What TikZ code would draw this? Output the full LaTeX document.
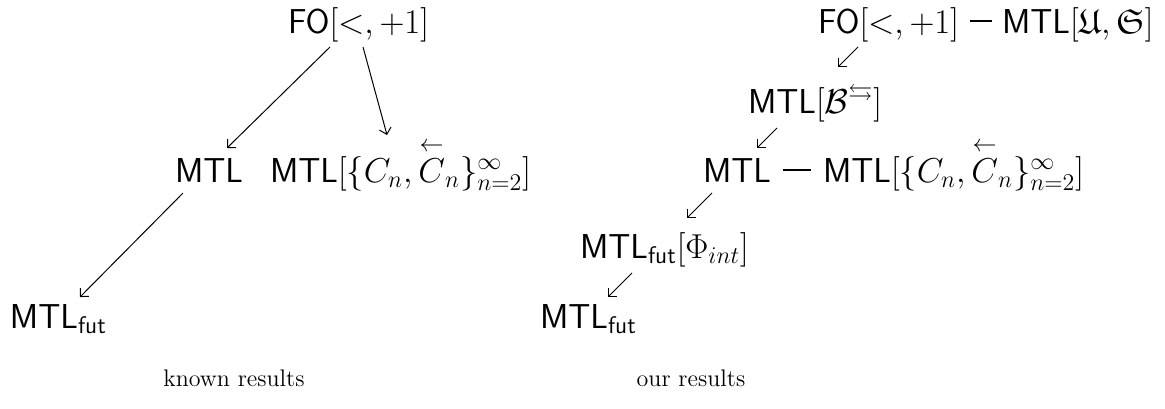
\documentclass[tikz,border=0pt]{standalone}
\usepackage{amsmath,amssymb}
\usetikzlibrary{arrows.meta}
\begin{document}
\begin{tikzpicture}[x=0.5pt,y=-0.5pt,
  lbl/.style={inner sep=0pt,outer sep=0pt,anchor=base west,font=\fontsize{17.28}{20}\selectfont},
  captxt/.style={inner sep=0pt,anchor=base,font=\fontsize{12}{14}\selectfont},
  arr/.style={line width=0.5pt,-{Straight Barb[length=3pt,width=6pt]}},
  dashline/.style={line width=0.55pt}]
\useasboundingbox (0,0) rectangle (1165,408);
% left tree
\node[lbl] (foL)   at (288,33)  {$\mathsf{FO}[<,+1]$};
\node[lbl] (mtlL)  at (175,182) {$\mathsf{MTL}$};
\node[lbl] (mtlCL) at (270,182) {$\mathsf{MTL}[\{C_n,\overset{\leftarrow}{C}_n\}_{n=2}^{\infty}]$};
\node[lbl] (futL)  at (10,328)  {$\mathsf{MTL}_{\mathsf{fut}}$};
\draw[arr] ([shift={(42,14)}]foL.base west) -- ([shift={(52,-34)}]mtlL.base west);
\draw[arr] ([shift={(75,14)}]foL.base west) -- ([shift={(117,-47)}]mtlCL.base west);
\draw[arr] ([shift={(8,11)}]mtlL.base west) -- ([shift={(70,-31)}]futL.base west);
% right tree
\node[lbl] (foR)   at (818,33)  {$\mathsf{FO}[<,+1]$};
\node[lbl] (usR)   at (1002,33) {$\mathsf{MTL}[\mathfrak{U},\mathfrak{S}]$};
\node[lbl] (bR)    at (748,113) {$\mathsf{MTL}[\mathcal{B}^{\leftrightarrows}]$};
\node[lbl] (mtlR)  at (703,182) {$\mathsf{MTL}$};
\node[lbl] (mtlCR) at (823,182) {$\mathsf{MTL}[\{C_n,\overset{\leftarrow}{C}_n\}_{n=2}^{\infty}]$};
\node[lbl] (phiR)  at (580,258) {$\mathsf{MTL}_{\mathsf{fut}}[\Phi_{int}]$};
\node[lbl] (futR)  at (540,328) {$\mathsf{MTL}_{\mathsf{fut}}$};
\draw[dashline] ([xshift=5.5pt,yshift=6pt]foR.base east) -- ([xshift=-5pt,yshift=6pt]usR.base west);
\draw[dashline] ([xshift=6pt,yshift=6pt]mtlR.base east) -- ([xshift=-6pt,yshift=6pt]mtlCR.base west);
\draw[arr] ([shift={(40,14)}]foR.base west) -- ([shift={(90,-46)}]bR.base west);
\draw[arr] ([shift={(29,15)}]bR.base west) -- ([shift={(54,-34)}]mtlR.base west);
\draw[arr] ([shift={(9,11)}]mtlR.base west) -- ([shift={(107,-40)}]phiR.base west);
\draw[arr] ([shift={(52,15)}]phiR.base west) -- ([shift={(68,-31)}]futR.base west);
% captions
\node[captxt] (k) at (234,386) {known results};
\node[captxt] (o) at (691,386) {our results};
\end{tikzpicture}
\end{document}
